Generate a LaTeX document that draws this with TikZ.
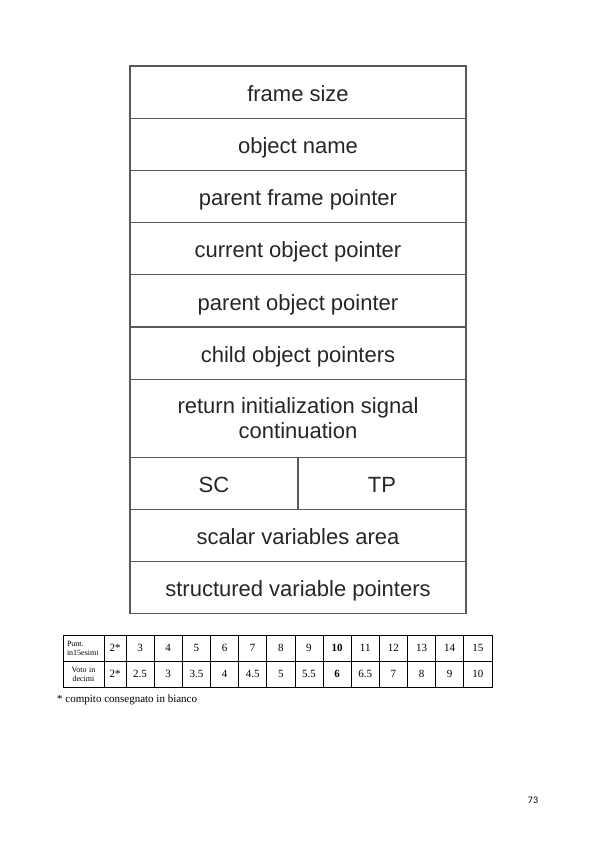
\documentclass[tikz,border=0pt]{standalone}
\usepackage{fontspec}
\setmainfont{Liberation Serif}
\newfontfamily\framefont{Liberation Sans}
\newfontfamily\pagefont{Carlito}
\usetikzlibrary{positioning}

\begin{document}
\begin{tikzpicture}[x=1pt,y=-1pt,node distance=0pt,
	field/.style={draw=black!65, line width=1.3pt, outer sep=0pt, inner sep=0pt, minimum width=336pt, minimum height=52.2pt, align=center, text=black!85, font=\framefont\fontsize{22}{25}\selectfont},
	onerow/.style={field, text height=18.5pt, text depth=0pt},
	half/.style={onerow, minimum width=168pt},
	cell/.style={draw, line width=0.7pt, outer sep=0pt, inner sep=0pt, minimum width=28.15pt, minimum height=26pt, font=\fontsize{11}{13}\selectfont},
	boldcell/.style={cell, font=\fontsize{11}{13}\selectfont\bfseries}]
	
	\useasboundingbox (0,0) rectangle (596,842);
	
	% frame layout
	\node[onerow, anchor=north west] (fsize) at (130,66) {frame size};
	\node[onerow] (oname) [below=of fsize] {object name};
	\node[onerow] (pfp) [below=of oname] {parent frame pointer};
	\node[onerow] (cop) [below=of pfp] {current object pointer};
	\node[onerow] (pop) [below=of cop] {parent object pointer};
	\node[onerow] (chop) [below=of pop] {child object pointers};
	\node[field, minimum height=78pt] (ret) [below=of chop] {return initialization signal\\continuation};
	\node[half, anchor=north west] (sc) at (ret.south west) {SC};
	\node[half, anchor=north east] (tp) at (ret.south east) {TP};
	\node[onerow, anchor=north west] (sva) at (sc.south west) {scalar variables area};
	\node[onerow] (svp) [below=of sva] {structured variable pointers};
	
	% grading table
	\node[cell, anchor=north west, minimum width=41pt, text width=33pt, inner xsep=4pt, align=left, font=\fontsize{8}{9}\selectfont] (lab1) at (63,635) {Punt.\\in15esimi};
	\node[cell, anchor=north west, minimum width=41pt, text width=33pt, inner xsep=4pt, align=center, font=\fontsize{8}{9}\selectfont] (lab2) at (63,661) {Voto in\\decimi};
	\node[cell, anchor=north west, minimum width=22pt] (p0) at (104,635) {2*};
	\node[cell, anchor=north west, minimum width=22pt] (v0) at (104,661) {2*};
	\foreach \p/\v/\s [count=\i] in {3/2.5/cell, 4/3/cell, 5/3.5/cell, 6/4/cell, 7/4.5/cell, 8/5/cell, 9/5.5/cell, 10/6/boldcell, 11/6.5/cell, 12/7/cell, 13/8/cell, 14/9/cell, 15/10/cell}
	{
		\node[\s, anchor=north west] (p\i) at ({126+(\i-1)*28.15},635) {\p};
		\node[\s, anchor=north west] (v\i) at ({126+(\i-1)*28.15},661) {\v};
	}
	
	\node[anchor=west, inner sep=0pt, font=\fontsize{11}{13}\selectfont] (note) at (57,700) {* compito consegnato in bianco};
	\node[font=\pagefont\fontsize{10}{12}\selectfont] (page) at (533,800) {73};
	
\end{tikzpicture}
\end{document}
